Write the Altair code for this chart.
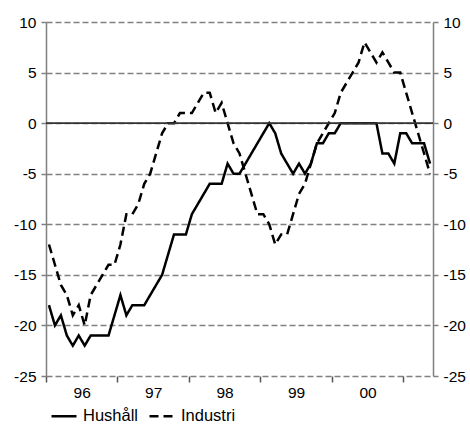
import altair as alt
import numpy as np
import pandas as pd

# Monthly net balances, Jan 1996 - May 2001
hushall = [-18, -20, -19, -21, -22, -21, -22, -21, -21, -21, -21, -19,
           -17, -19, -18, -18, -18, -17, -16, -15, -13, -11, -11, -11,
           -9, -8, -7, -6, -6, -6, -4, -5, -5, -4, -3, -2,
           -1, 0, -1, -3, -4, -5, -4, -5, -4, -2, -2, -1,
           -1, 0, 0, 0, 0, 0, 0, 0, -3, -3, -4, -1,
           -1, -2, -2, -2, -4]
industri = [-12, -14, -16, -17, -19, -18, -20, -17, -16, -15, -14, -14,
            -12, -9, -9, -8, -6, -5, -3, -1, 0, 0, 1, 1,
            1, 2, 3, 3, 1, 2, 0, -2, -3, -5, -7, -9,
            -9, -10, -12, -11, -11, -9, -7, -6, -4, -2, -1, 0,
            1, 3, 4, 5, 6, 8, 7, 6, 7, 6, 5, 5,
            3, 1, -1, -3, -5]
series_names = ["Hushåll", "Industri"]
year_labels = ["96", "97", "98", "99", "00"]
y_ticks = [-25, -20, -15, -10, -5, 0, 5, 10]

n = len(hushall)
month_pos = np.arange(n) + 0.5
df = pd.concat([
    pd.DataFrame({"t": month_pos, "v": hushall, "serie": series_names[0]}),
    pd.DataFrame({"t": month_pos, "v": industri, "serie": series_names[1]}),
])

FONT = "Liberation Sans"
GREY = "#808080"
W, H = 387, 354

x_scale = alt.Scale(domain=[0, n], nice=False, zero=False)
y_scale = alt.Scale(domain=[-25, 10], nice=False, zero=False)

# ticks on year boundaries; each year's label is shifted half a year to the right
label_expr = ""
for k, lab in enumerate(year_labels):
    label_expr += "datum.value == %d ? '%s' : " % (12 * k, lab)
label_expr += "''"

x_axis = alt.Axis(
    values=list(range(0, n, 12)),
    labelExpr=label_expr,
    labelOffset=W / n * 6,
    title=None, domain=False, grid=False,
    tickSize=6, tickWidth=1.5, tickColor="#555555",
    labelPadding=3, labelFont=FONT, labelFontSize=15.5, labelColor="black",
    labelFlush=False, labelOverlap=False,
)

def y_axis(orient, grid):
    return alt.Axis(
        orient=orient, values=y_ticks, labelExpr="'' + datum.value", title=None,
        grid=grid, gridDash=[6, 3], gridColor=GREY, gridWidth=1.5,
        domainColor=GREY, domainWidth=1.5,
        tickColor=GREY, tickWidth=1.5, tickSize=5, labelPadding=5,
        labelFont=FONT, labelFontSize=15.5, labelColor="black",
        labelFlush=False, labelOverlap=False,
    )

lines = alt.Chart(df).mark_line(strokeWidth=2.5, color="black").encode(
    x=alt.X("t:Q", scale=x_scale, axis=x_axis),
    y=alt.Y("v:Q", scale=y_scale, axis=y_axis("left", True)),
    strokeDash=alt.StrokeDash(
        "serie:N",
        scale=alt.Scale(domain=series_names, range=[[1, 0], [9, 5]]),
        legend=alt.Legend(
            title=None, orient="none", direction="horizontal",
            legendX=4, legendY=380, symbolType="stroke", symbolSize=625,
            symbolStrokeWidth=2.5, symbolStrokeColor="black",
            labelFont=FONT, labelFontSize=16.5, labelColor="black",
            labelOffset=5, columnPadding=5, padding=0,
        ),
    ),
)

zero_line = alt.Chart(pd.DataFrame({"v": [0]})).mark_rule(
    color="#333333", strokeWidth=1.6
).encode(y=alt.Y("v:Q", scale=y_scale, axis=None))

right_axis = alt.Chart(df).mark_line(opacity=0).encode(
    x=alt.X("t:Q", scale=x_scale, axis=x_axis),
    y=alt.Y("v:Q", scale=y_scale, axis=y_axis("right", False)),
)

chart = alt.layer(lines, zero_line, right_axis).resolve_axis(
    y="independent"
).properties(
    width=W, height=H,
    autosize=alt.AutoSizeParams(type="none"),
    padding={"left": 46, "top": 22, "right": 37, "bottom": 49},
).configure_view(stroke=None)

chart.save("out.html", embed_options={"renderer": "svg", "actions": False})
